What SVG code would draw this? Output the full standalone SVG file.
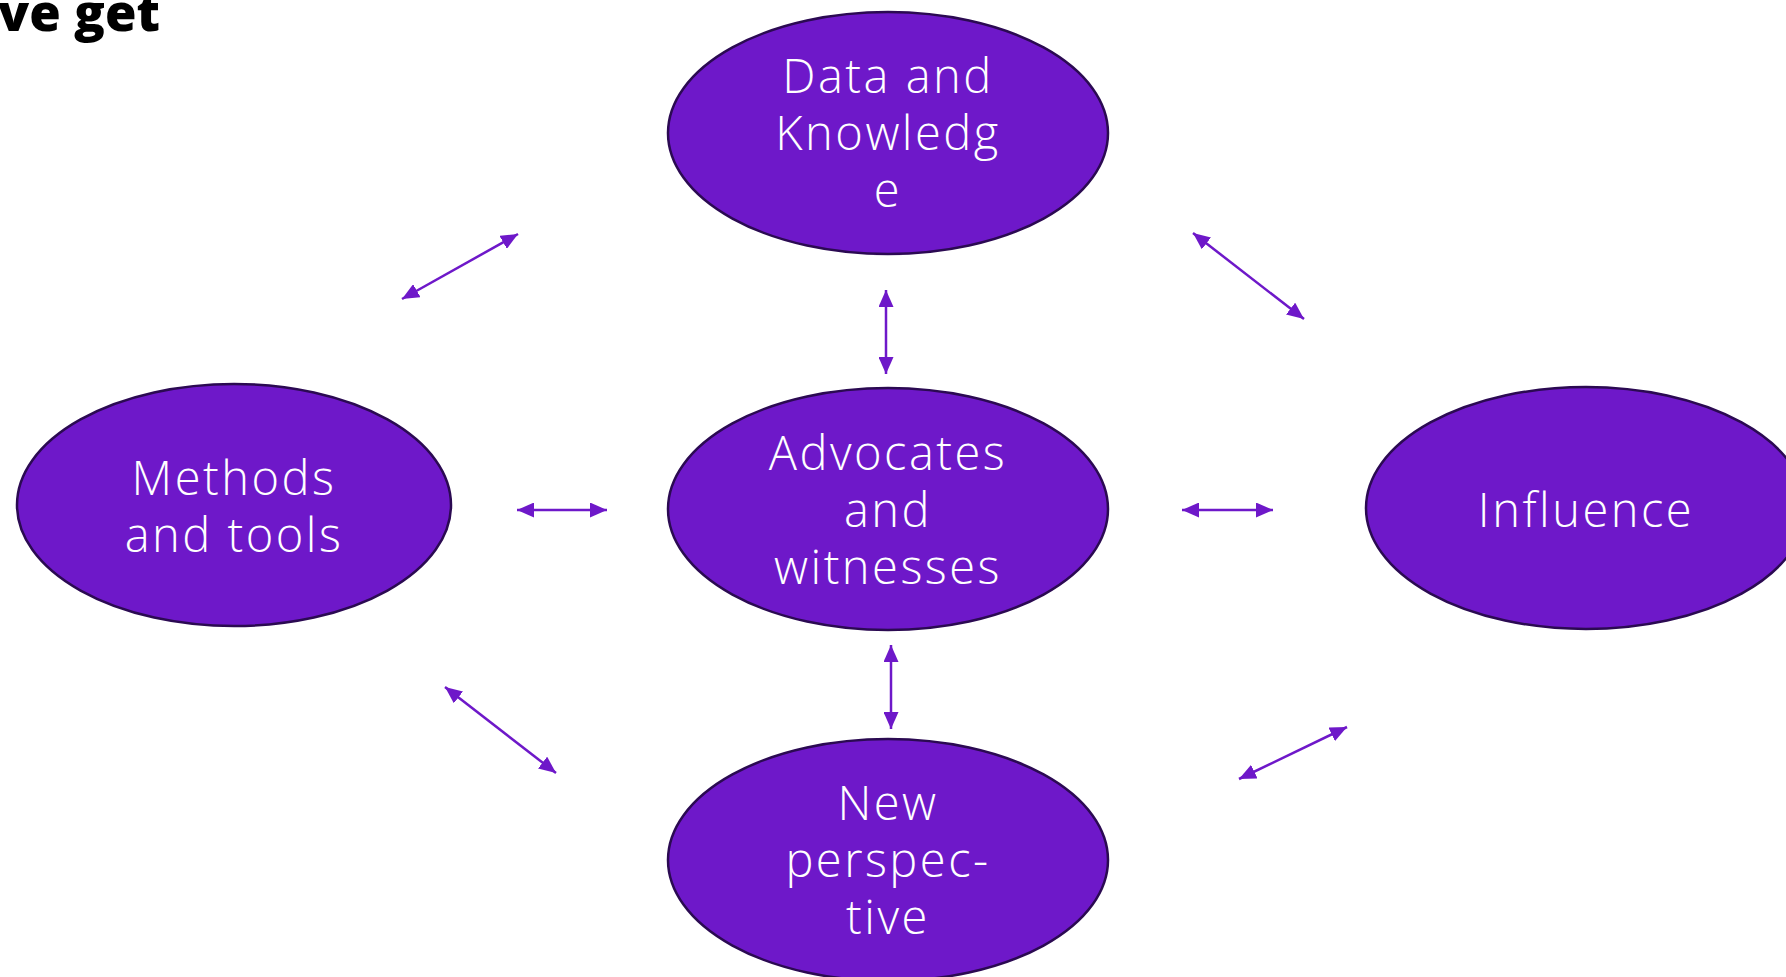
<svg xmlns="http://www.w3.org/2000/svg" width="1786" height="977" viewBox="0 0 1786 977">
<style>
.node ellipse{fill:#6e18c9;stroke:#2b0a52;stroke-width:2.5}
.node text{font-family:"Open Sans","Lato",sans-serif;font-weight:300;font-size:47px;fill:#ffffff;text-anchor:middle;letter-spacing:2.5px}
.conn line{stroke:#6e18c9;stroke-width:2.5;fill:none}
.title{font-family:"Open Sans","Liberation Sans",sans-serif;font-weight:800;font-size:52px;fill:#000}
</style>
<defs>
<marker id="ah" viewBox="0 0 17 15" refX="17" refY="7.5" markerWidth="17" markerHeight="15" markerUnits="userSpaceOnUse" orient="auto-start-reverse">
<path d="M0,0 L17,7.5 L0,15 z" fill="#6e18c9"/>
</marker>
</defs>
<rect width="1786" height="977" fill="#ffffff"/>
<text class="title" x="-2" y="31" textLength="162" lengthAdjust="spacingAndGlyphs">ve get</text>
<g id="connectors" class="conn">
<line x1="402" y1="299" x2="518" y2="234" marker-start="url(#ah)" marker-end="url(#ah)"/>
<line x1="1193" y1="233" x2="1304" y2="319" marker-start="url(#ah)" marker-end="url(#ah)"/>
<line x1="445" y1="687" x2="556" y2="773" marker-start="url(#ah)" marker-end="url(#ah)"/>
<line x1="1239" y1="779" x2="1347" y2="727" marker-start="url(#ah)" marker-end="url(#ah)"/>
<line x1="517" y1="510" x2="607" y2="510" marker-start="url(#ah)" marker-end="url(#ah)"/>
<line x1="1182" y1="510" x2="1273" y2="510" marker-start="url(#ah)" marker-end="url(#ah)"/>
<line x1="886" y1="290" x2="886" y2="374" marker-start="url(#ah)" marker-end="url(#ah)"/>
<line x1="891" y1="645" x2="891" y2="729" marker-start="url(#ah)" marker-end="url(#ah)"/>
</g>
<g id="data-knowledge" class="node">
<ellipse cx="888" cy="133" rx="220" ry="121"/>
<text x="888" y="93">Data and</text>
<text x="888" y="150">Knowledg</text>
<text x="888" y="207">e</text>
</g>
<g id="advocates" class="node">
<ellipse cx="888" cy="509" rx="220" ry="121"/>
<text x="888" y="470">Advocates</text>
<text x="888" y="527">and</text>
<text x="888" y="584">witnesses</text>
</g>
<g id="methods" class="node">
<ellipse cx="234" cy="505" rx="217" ry="121"/>
<text x="234" y="495">Methods</text>
<text x="234" y="552">and tools</text>
</g>
<g id="influence" class="node">
<ellipse cx="1586" cy="508" rx="220" ry="121"/>
<text x="1586" y="527">Influence</text>
</g>
<g id="new-perspective" class="node">
<ellipse cx="888" cy="860" rx="220" ry="121"/>
<text x="888" y="820">New</text>
<text x="888" y="877">perspec-</text>
<text x="888" y="934">tive</text>
</g>
</svg>
